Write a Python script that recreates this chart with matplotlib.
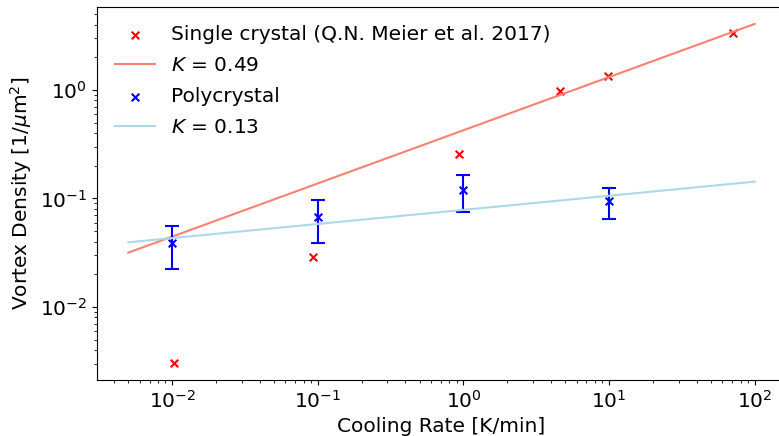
import numpy as np
import matplotlib
matplotlib.use('Agg')
import matplotlib.pyplot as plt

plt.rcParams['font.size'] = 14.5

# single crystal data (Meier et al. 2017)
sc_rate = [0.0103, 0.093, 0.93, 4.6, 9.8, 71]
sc_density = [0.00304, 0.029, 0.255, 0.98, 1.34, 3.36]

# polycrystal measurements
pc_rate = [0.01, 0.1, 1, 10]
pc_density = [0.0387, 0.0675, 0.119, 0.095]
pc_err = [0.0165, 0.0285, 0.044, 0.030]

# power-law fits: density = A * rate**K
sc_K, sc_A = 0.49, 0.425
pc_K, pc_A = 0.13, 0.0785
fit_rate = np.array([0.005, 100])

fig = plt.figure(figsize=(7.79, 4.36), dpi=100)
ax = fig.add_axes([0.1245, 0.1284, 0.8845, 0.8555])

ax.scatter(sc_rate, sc_density, marker='x', color='red', s=30, linewidths=1.5,
           label='Single crystal (Q.N. Meier et al. 2017)')
ax.plot(fit_rate, sc_A * fit_rate ** sc_K, color='salmon',
        label=f'$K$ = {sc_K}')
ax.scatter(pc_rate, pc_density, marker='x', color='blue', s=30, linewidths=1.5,
           label='Polycrystal')
ax.errorbar(pc_rate, pc_density, yerr=pc_err, fmt='none', ecolor='blue',
            capsize=5, elinewidth=1.5, capthick=1.5)
ax.plot(fit_rate, pc_A * fit_rate ** pc_K, color='lightblue',
        label=f'$K$ = {pc_K}')

ax.set_xscale('log')
ax.set_yscale('log')
ax.set_xlim(10 ** -2.516, 10 ** 2.215)
ax.set_ylim(10 ** -2.673, 10 ** 0.764)
ax.set_xlabel('Cooling Rate [K/min]')
ax.set_ylabel(r'Vortex Density [1/$\mu$m$^2$]')

handles, labels = ax.get_legend_handles_labels()
order = [labels.index(l) for l in ['Single crystal (Q.N. Meier et al. 2017)',
                                    f'$K$ = {sc_K}', 'Polycrystal', f'$K$ = {pc_K}']]
ax.legend([handles[i] for i in order], [labels[i] for i in order],
          loc='upper left', frameon=False, fontsize=14.5, labelspacing=0.6)

fig.savefig('out.png', dpi=100)
